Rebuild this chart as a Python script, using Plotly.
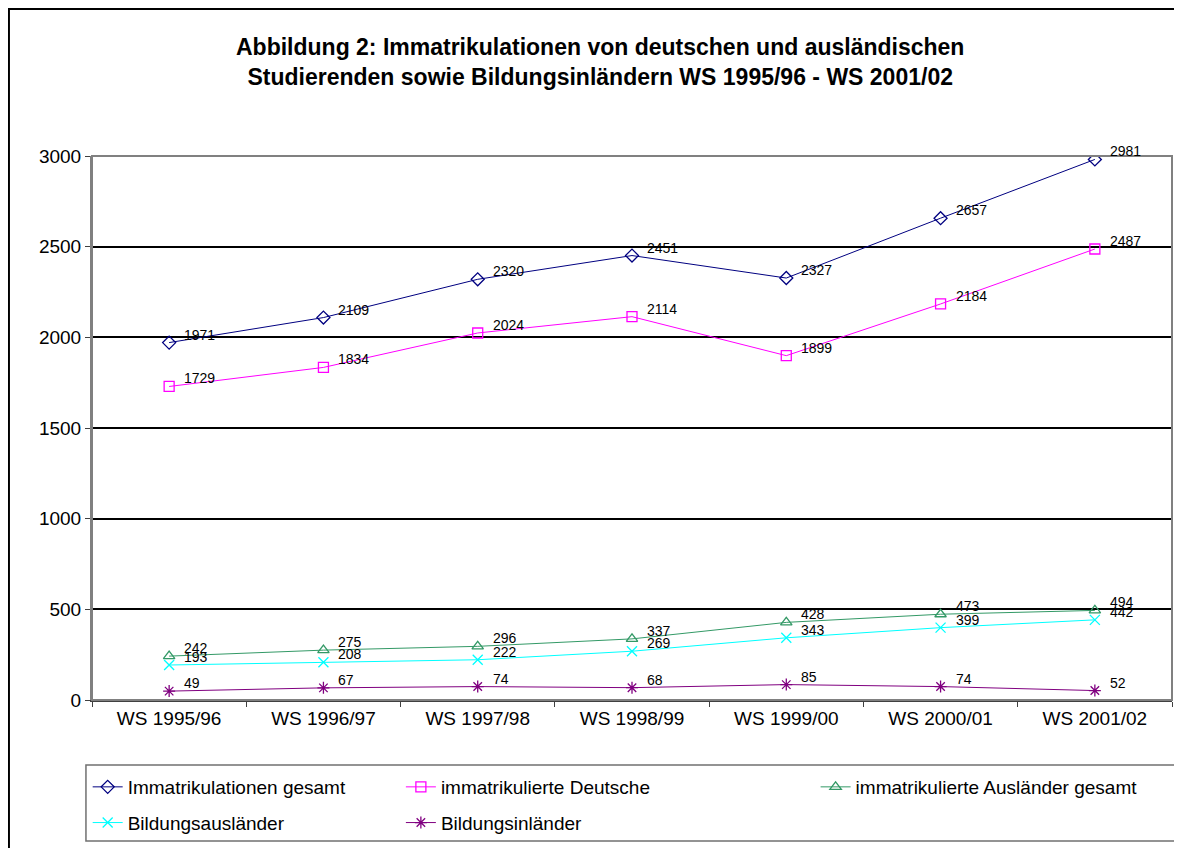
import plotly.graph_objects as go

# data
semesters = ["WS 1995/96", "WS 1996/97", "WS 1997/98", "WS 1998/99",
             "WS 1999/00", "WS 2000/01", "WS 2001/02"]
gesamt = [1971, 2109, 2320, 2451, 2327, 2657, 2981]
deutsche = [1729, 1834, 2024, 2114, 1899, 2184, 2487]
auslaender = [242, 275, 296, 337, 428, 473, 494]
bildungsauslaender = [193, 208, 222, 269, 343, 399, 442]
bildungsinlaender = [49, 67, 74, 68, 85, 74, 52]

series = [
    ("Immatrikulationen gesamt", gesamt, "#000080", "diamond-open", "legend"),
    ("immatrikulierte Deutsche", deutsche, "#FF00FF", "square-open", "legend2"),
    ("immatrikulierte Ausländer gesamt", auslaender, "#339966", "triangle-up-open", "legend3"),
    ("Bildungsausländer", bildungsauslaender, "#00FFFF", "x-thin-open", "legend"),
    ("Bildungsinländer", bildungsinlaender, "#800080", "asterisk-open", "legend2"),
]

fig = go.Figure()
for name, vals, col, sym, leg in series:
    fig.add_trace(go.Scatter(
        x=semesters, y=vals, name=name, mode="lines+markers",
        line=dict(color=col, width=1),
        marker=dict(symbol=sym, size=10, color=col, line=dict(color=col, width=1.3)),
        legend=leg, legendgroup=name,
    ))
    # value labels right of each point
    for s, v in zip(semesters, vals):
        fig.add_annotation(x=s, y=v, xref="x", yref="y", text=str(v),
                           showarrow=False, xanchor="left", yanchor="middle",
                           xshift=13, yshift=8,
                           font=dict(family="Arial", size=14, color="black"))

# title
fig.add_annotation(
    text="<b>Abbildung 2: Immatrikulationen von deutschen und ausländischen<br>"
         "Studierenden sowie Bildungsinländern WS 1995/96 - WS 2001/02</b>",
    xref="paper", yref="paper", x=0.4704, y=1.1728, showarrow=False,
    xanchor="center", yanchor="middle",
    font=dict(family="Arial", size=23, color="black"))

# outer frame and legend box
fig.add_shape(type="rect", xref="paper", yref="paper", x0=-0.0769, x1=1.02,
              y0=-0.3, y1=1.2702, line=dict(color="black", width=2), layer="below")
fig.add_shape(type="rect", xref="paper", yref="paper", x0=-0.0056, x1=1.0065,
              y0=-0.2592, y1=-0.1195, line=dict(color="#707070", width=1.5))
# plot area border
fig.add_shape(type="rect", xref="paper", yref="paper", x0=0, x1=1, y0=0, y1=1,
              line=dict(color="#808080", width=2), layer="above")

leg_common = dict(orientation="v", bgcolor="rgba(0,0,0,0)", borderwidth=0,
                  font=dict(family="Arial", size=19, color="black"),
                  xanchor="left", yanchor="top", tracegroupgap=8)
fig.update_layout(
    width=1182, height=848,
    margin=dict(l=84, r=18, t=148, b=156),
    paper_bgcolor="white", plot_bgcolor="white",
    font=dict(family="Arial", size=19, color="black"),
    xaxis=dict(type="category", range=[-0.5, 6.5], showgrid=False,
               showline=True, linecolor="#404040", linewidth=2,
               ticks="outside", tickson="boundaries", ticklen=5,
               tickcolor="#404040", tickfont=dict(size=19)),
    yaxis=dict(range=[0, 3000], dtick=500, showgrid=True, gridcolor="black",
               gridwidth=2, zeroline=False, showline=True, linecolor="#808080",
               linewidth=2, ticks="outside", ticklen=5, tickcolor="#404040",
               tickfont=dict(size=19)),
    legend=dict(x=-0.004, y=-0.125, **leg_common),
    legend2=dict(x=0.286, y=-0.125, **leg_common),
    legend3=dict(x=0.67, y=-0.125, **leg_common),
    showlegend=True,
)

fig.write_html("out.html")
